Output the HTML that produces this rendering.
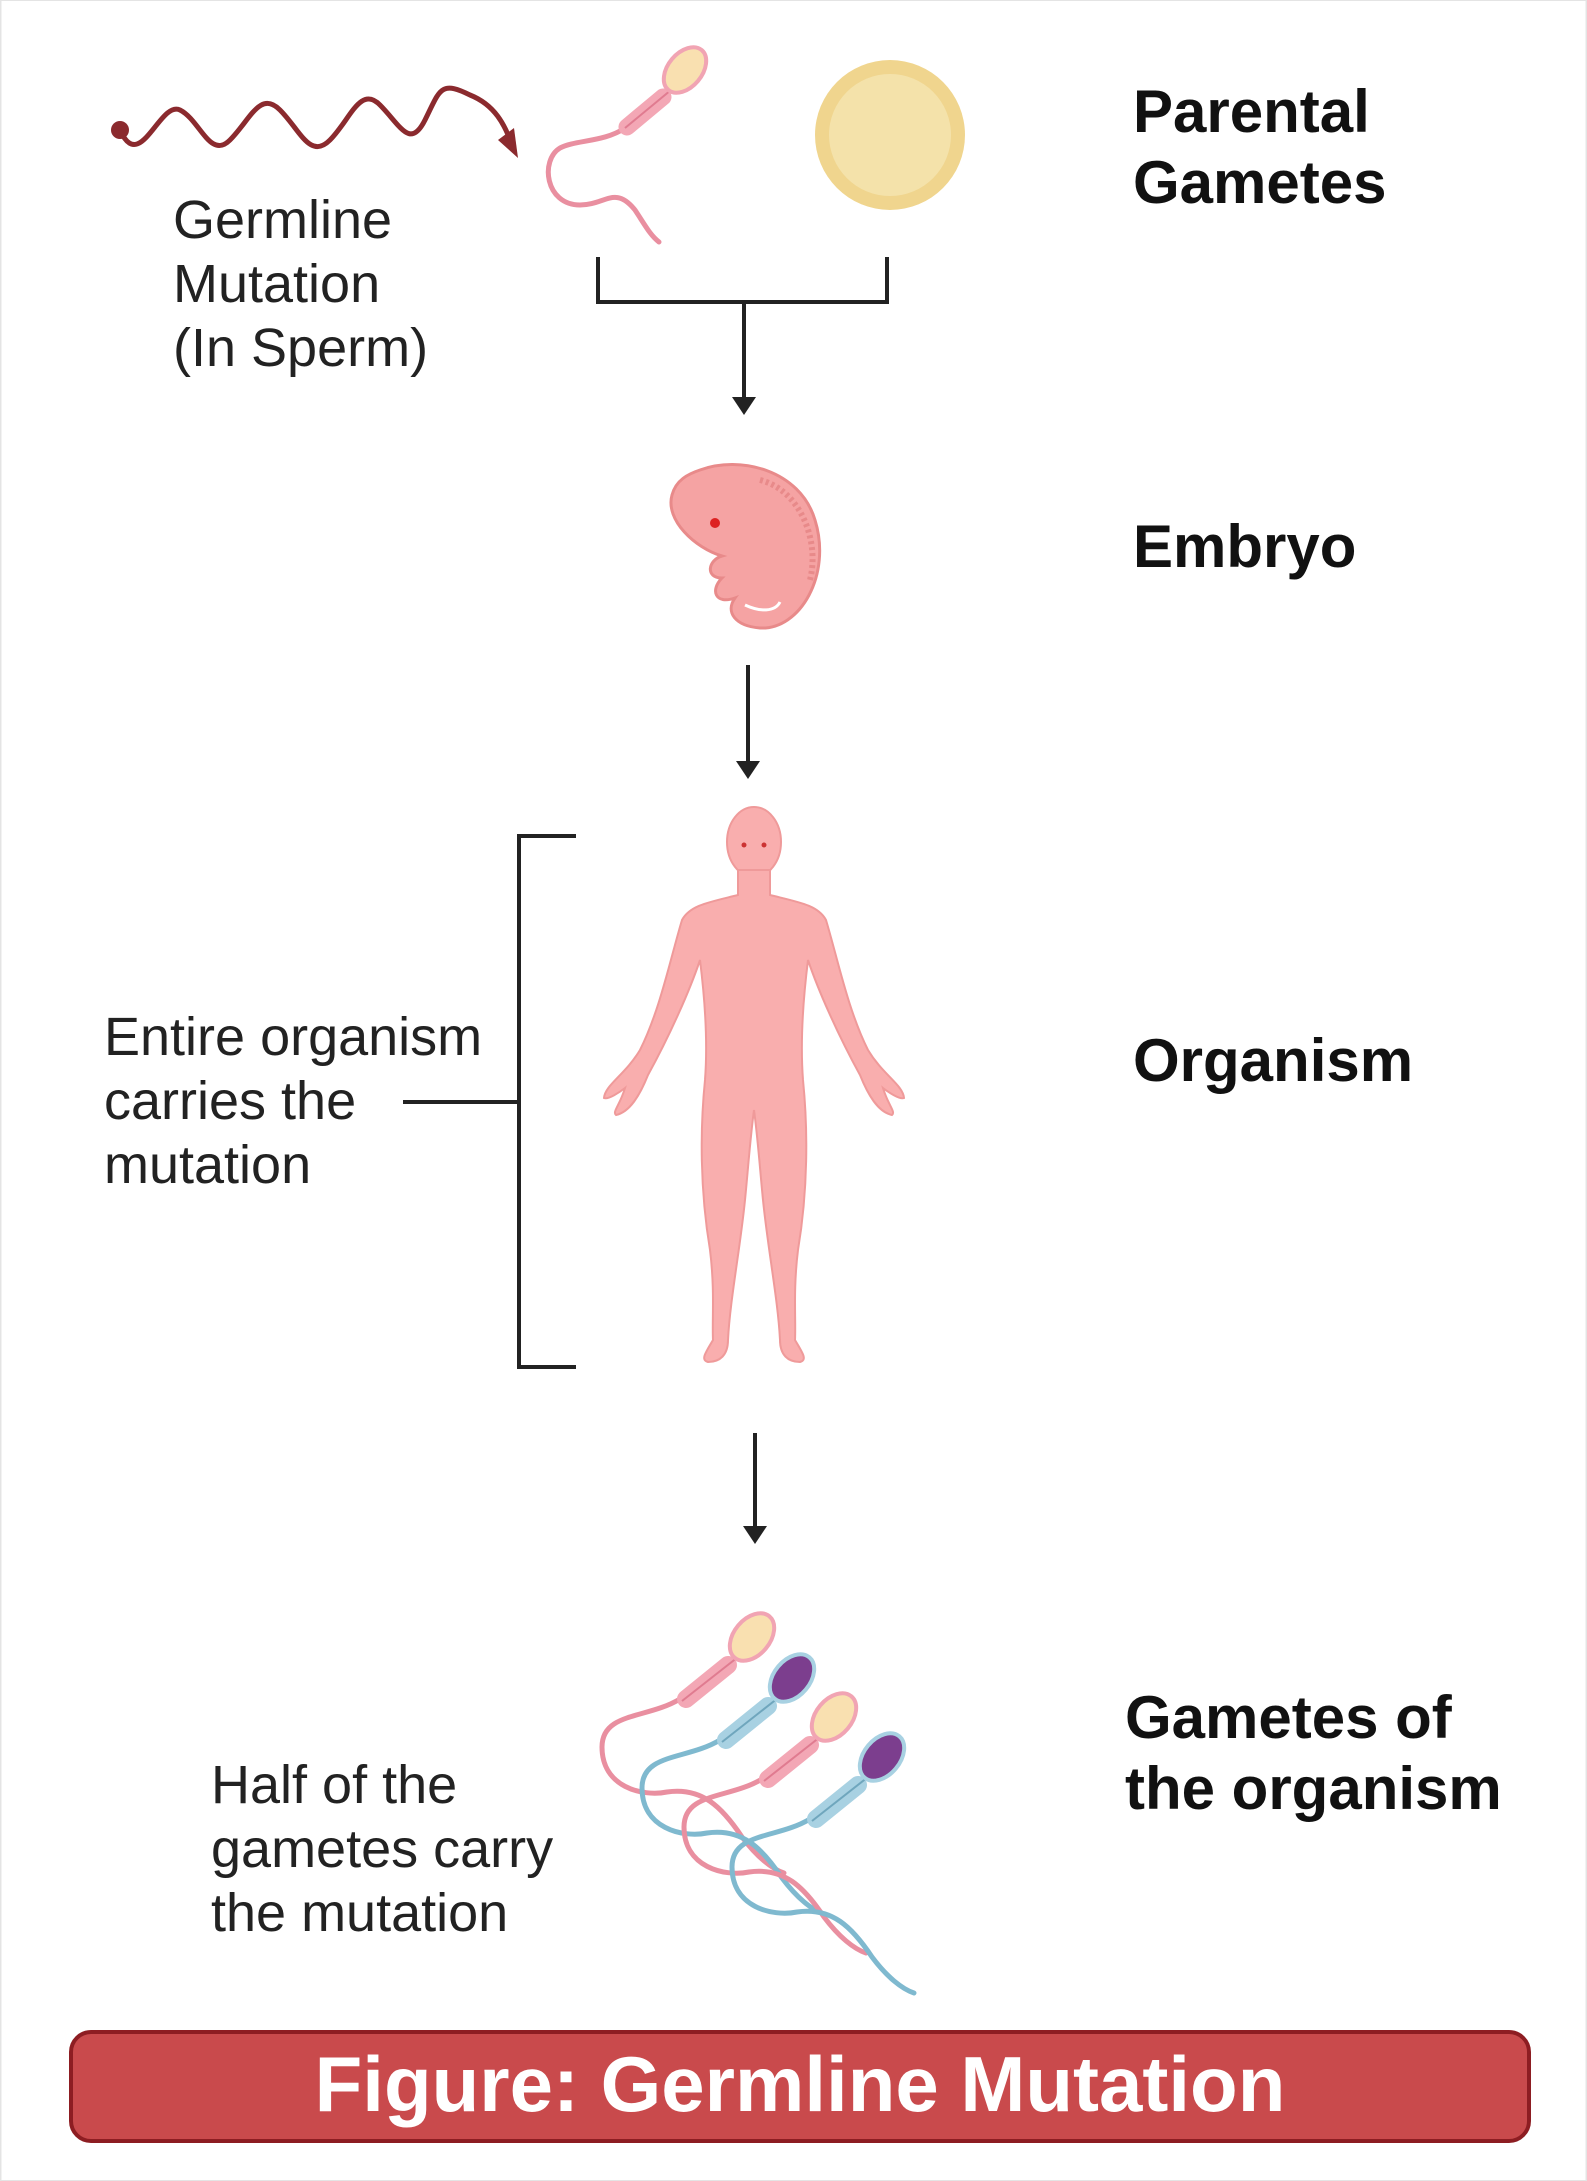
<!DOCTYPE html>
<html><head><meta charset="utf-8"><style>
html,body{margin:0;padding:0;background:#fff}
svg{display:block}
text{font-family:"Liberation Sans",sans-serif}
</style></head><body>
<svg width="1587" height="2181" viewBox="0 0 1587 2181" xmlns="http://www.w3.org/2000/svg">
<defs>
<g id="spTop">
  <path d="M-60,58 C-80,72 -110,70 -125,78 C-145,90 -140,135 -105,135 C-80,135 -70,115 -50,140 C-40,155 -35,165 -26,172" fill="none" stroke="#e98fa0" stroke-width="5" stroke-linecap="round"/>
  <line x1="-22" y1="27" x2="-58" y2="57" stroke="#f3a7b5" stroke-width="17" stroke-linecap="round"/>
  <line x1="-14" y1="20" x2="-60" y2="58" stroke="#e07b90" stroke-width="2"/>
  <ellipse cx="0" cy="0" rx="17" ry="26" transform="rotate(40)" fill="#f9e0b0" stroke="#f1a4b3" stroke-width="4"/>
</g>
<g id="gY">
  <path d="M-72,62 C-105,82 -150,75 -150,110 C-150,150 -110,160 -85,155 C-50,150 -30,170 -10,200 C5,220 20,232 32,236" fill="none" stroke="#e98fa0" stroke-width="5" stroke-linecap="round"/>
  <line x1="-24" y1="28" x2="-66" y2="62" stroke="#f3a7b5" stroke-width="18" stroke-linecap="round"/>
  <line x1="-14" y1="20" x2="-70" y2="64" stroke="#e07b90" stroke-width="2"/>
  <ellipse cx="0" cy="0" rx="18" ry="27" transform="rotate(40)" fill="#f9e0b0" stroke="#f1a4b3" stroke-width="4"/>
</g>
<g id="gX">
  <path d="M-72,62 C-105,82 -150,75 -150,110 C-150,150 -110,160 -85,155 C-50,150 -30,170 -10,200 C5,220 20,232 32,236" fill="none" stroke="#7fb9cf" stroke-width="5" stroke-linecap="round"/>
  <line x1="-24" y1="28" x2="-66" y2="62" stroke="#a8d1e2" stroke-width="18" stroke-linecap="round"/>
  <line x1="-14" y1="20" x2="-70" y2="64" stroke="#6fa6bd" stroke-width="2"/>
  <ellipse cx="0" cy="0" rx="18" ry="27" transform="rotate(40)" fill="#7c3e8e" stroke="#a8d1e2" stroke-width="4"/>
</g>
</defs>

<rect x="0.5" y="0" width="1586" height="2181" fill="none" stroke="#e4e4e4" stroke-width="2"/>

<!-- wavy mutation line -->
<circle cx="120" cy="130" r="9" fill="#8b2a2e"/>
<path d="M120,130 C140,175 160,100 180,110 S210,160 230,140 S260,90 280,110 S310,160 330,140 S360,85 380,105 S410,150 425,120 S440,80 470,95 C495,105 505,125 512,145" fill="none" stroke="#8b2a2e" stroke-width="5"/>
<path d="M498,140 L518,158 L514,128z" fill="#8b2a2e"/>

<text font-size="54" fill="#222"><tspan x="173" y="238">Germline</tspan><tspan x="173" y="302">Mutation</tspan><tspan x="173" y="366">(In Sperm)</tspan></text>

<!-- top sperm -->
<use href="#spTop" x="685" y="70"/>

<!-- egg -->
<circle cx="890" cy="135" r="75" fill="#f0d58e"/>
<circle cx="890" cy="135" r="61" fill="#f4e2aa"/>

<text font-size="60" font-weight="bold" fill="#111"><tspan x="1133" y="132">Parental</tspan><tspan x="1133" y="203">Gametes</tspan></text>

<!-- join bracket -->
<path d="M598,257 V302 H887 V257" fill="none" stroke="#222" stroke-width="4"/>
<line x1="744" y1="302" x2="744" y2="405" stroke="#222" stroke-width="4"/>
<path d="M732,397 L744,415 L756,397z" fill="#222"/>

<!-- embryo -->
<g>
<path d="M700,470 C740,455 800,470 815,520 C832,575 800,630 760,628 C735,626 725,612 735,598 C715,605 710,590 722,578 C705,578 708,560 722,556 C695,548 665,520 672,495 C676,480 688,474 700,470z" fill="#f5a3a3" stroke="#e88a8a" stroke-width="3"/>
<path d="M760,480 C800,490 820,540 810,580" fill="none" stroke="#e88a8a" stroke-width="6" stroke-dasharray="3 3"/>
<circle cx="715" cy="523" r="5" fill="#d22"/>
<path d="M745,605 C760,612 775,612 780,602" fill="none" stroke="#fff" stroke-width="3"/>
</g>
<text x="1133" y="567" font-size="60" font-weight="bold" fill="#111">Embryo</text>

<line x1="748" y1="665" x2="748" y2="770" stroke="#222" stroke-width="4"/>
<path d="M736,761 L748,779 L760,761z" fill="#222"/>

<!-- human -->
<g fill="#f9aeae" stroke="#ef9a9a" stroke-width="2">
<ellipse cx="754" cy="842" rx="27" ry="35"/>
<path d="M738,870 L738,895 C710,902 690,905 682,920 C670,960 660,1010 640,1050 C625,1075 605,1085 604,1098 C608,1100 620,1092 625,1088 C620,1105 612,1112 616,1115 C630,1112 640,1095 648,1075 C670,1035 690,990 700,960 C705,1000 708,1040 705,1080 C700,1130 700,1190 710,1250 C715,1290 712,1320 713,1340 C706,1352 700,1360 708,1362 C720,1362 728,1355 728,1340 C730,1300 740,1250 745,1200 C748,1170 750,1140 754,1110 C758,1140 760,1170 763,1200 C768,1250 778,1300 780,1340 C780,1355 788,1362 800,1362 C808,1360 802,1352 795,1340 C796,1320 793,1290 798,1250 C808,1190 808,1130 803,1080 C800,1040 803,1000 808,960 C818,990 838,1035 860,1075 C868,1095 878,1112 892,1115 C896,1112 888,1105 883,1088 C888,1092 900,1100 904,1098 C903,1085 883,1075 868,1050 C848,1010 838,960 826,920 C818,905 798,902 770,895 L770,870z"/>
</g>
<circle cx="744" cy="845" r="2.5" fill="#c33"/><circle cx="764" cy="845" r="2.5" fill="#c33"/>

<!-- left bracket -->
<path d="M576,836 H519 V1367 H576" fill="none" stroke="#222" stroke-width="4"/>
<line x1="403" y1="1102" x2="519" y2="1102" stroke="#222" stroke-width="4"/>
<text font-size="54" fill="#222"><tspan x="104" y="1055">Entire organism</tspan><tspan x="104" y="1119">carries the</tspan><tspan x="104" y="1183">mutation</tspan></text>
<text x="1133" y="1081" font-size="60" font-weight="bold" fill="#111">Organism</text>

<line x1="755" y1="1433" x2="755" y2="1535" stroke="#222" stroke-width="4"/>
<path d="M743,1526 L755,1544 L767,1526z" fill="#222"/>

<!-- gametes -->
<use href="#gY" x="752" y="1637"/>
<use href="#gX" x="792" y="1678"/>
<use href="#gY" x="834" y="1717"/>
<use href="#gX" x="882" y="1757"/>

<text font-size="54" fill="#222"><tspan x="211" y="1803">Half of the</tspan><tspan x="211" y="1867">gametes carry</tspan><tspan x="211" y="1931">the mutation</tspan></text>
<text font-size="60" font-weight="bold" fill="#111"><tspan x="1125" y="1738">Gametes of</tspan><tspan x="1125" y="1809">the organism</tspan></text>

<!-- banner -->
<rect x="71" y="2032" width="1458" height="109" rx="20" fill="#c94a4c" stroke="#8d1d22" stroke-width="4"/>
<text x="800" y="2111" font-size="78" font-weight="bold" fill="#fff" text-anchor="middle">Figure: Germline Mutation</text>
</svg>
</body></html>
